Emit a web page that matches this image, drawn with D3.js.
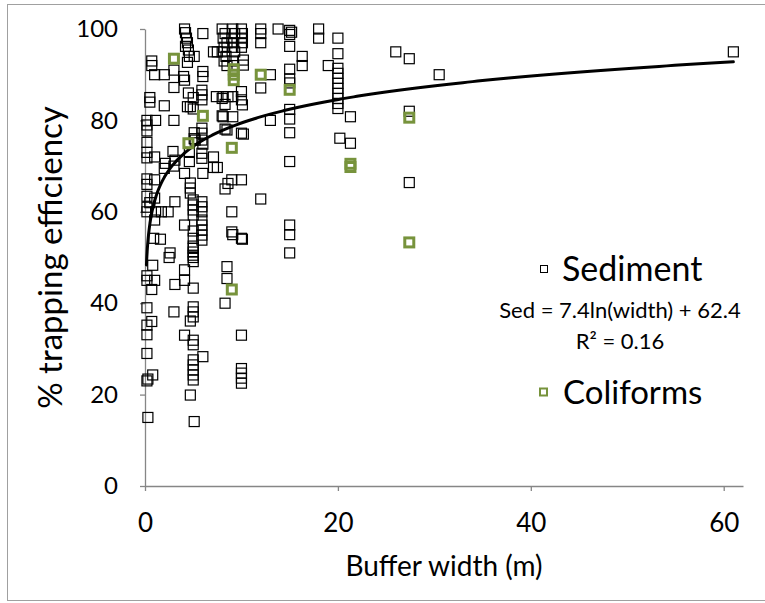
<!DOCTYPE html>
<html>
<head>
<meta charset="utf-8">
<script src="https://cdn.jsdelivr.net/npm/d3@7"></script>
<style>
  body { margin: 0; background: #fff; }
  svg { display: block; font-family: Lato, "Open Sans", sans-serif; }
</style>
</head>
<body>
<svg id="chart"></svg>
<script>
// Sediment trapping efficiency vs buffer width, with coliform points

// [buffer width (m), % trapping efficiency]
const sediment = [
  // ~0.2 m
  [0.2, 80], [0.2, 79], [0.2, 77.7], [0.2, 75.2], [0.2, 73], [0.2, 71.8], [0.2, 67.2], [0.2, 66],
  [0.2, 63.4], [0.2, 61], [0.2, 60], [0.2, 46], [0.2, 45], [0.2, 39], [0.2, 35.2], [0.2, 33.1],
  [0.2, 29], [0.3, 23.4], [0.2, 23], [0.3, 15],
  // ~0.5-1 m
  [0.5, 85], [0.5, 84], [0.5, 62], [0.7, 93], [0.7, 92], [1.0, 90], [1.1, 80], [1.0, 72],
  [1.0, 67], [1.0, 63], [1.1, 60], [1.0, 58.2], [0.9, 54.2], [1.6, 54], [0.8, 48.3], [1.0, 45],
  [0.7, 43], [0.7, 36], [0.8, 24.3],
  // 2-3 m
  [2.0, 90], [2.0, 83.2], [2.1, 70.6], [2.0, 69.5], [1.7, 60], [2.4, 60], [2.6, 51], [2.5, 50],
  [3.0, 91], [3.0, 87.2], [3.0, 80], [2.9, 73.2], [3.1, 71.3], [3.0, 70], [3.1, 62.2], [3.1, 44.1],
  [3.0, 38.1],
  // 4-5 m
  [4.1, 100], [4.2, 99.2], [4.3, 98], [4.4, 97], [4.2, 96.2], [4.5, 95.4], [4.6, 94], [4.4, 92.7],
  [4.0, 89.6], [4.1, 88.8], [4.5, 86], [4.4, 83], [4.7, 83], [4.6, 73], [4.6, 71], [4.1, 68.4],
  [4.7, 66.3], [4.7, 65.2], [4.7, 64.1], [4.1, 57.1], [4.1, 47.3], [4.1, 45], [4.7, 36.1], [4.1, 33],
  [4.7, 19.9],
  [5.1, 94], [5.0, 85], [5.0, 82.5], [5.1, 77.3], [5.1, 76], [5.2, 75.7], [5.0, 62.6], [5.0, 61.5],
  [5.0, 60.4], [5.0, 59.3], [5.0, 55.8], [5.0, 54.2], [5.0, 52.5], [5.0, 52], [5.0, 51.2], [5.0, 50.5],
  [5.0, 50], [5.0, 49.1], [5.0, 43.3], [5.0, 39.2], [5.0, 38.1], [5.0, 37], [5.0, 31.9], [5.0, 30.9],
  [5.0, 27.6], [5.0, 26.5], [5.0, 25.4], [5.0, 24.3], [5.0, 23.2], [5.1, 14.1],
  // 6 m
  [6.0, 99], [6.0, 90.7], [6.0, 89.6], [5.9, 86.6], [5.9, 85.6], [5.9, 84.5], [5.9, 78.3], [5.9, 77.2],
  [5.9, 75.7], [6.0, 74.8], [5.9, 72.8], [5.9, 71.7], [6.0, 68.4], [5.9, 62.2], [5.9, 61.1], [5.9, 60],
  [5.9, 58.2], [5.9, 57.1], [5.9, 56], [5.9, 54.9], [5.9, 53.8], [6.0, 28.3],
  // 7-8.6 m
  [7.1, 95], [7.5, 95], [7.4, 85.2], [7.1, 72], [7.1, 69.7], [7.5, 69.7],
  [8.0, 100], [8.3, 99], [8.1, 98], [8.5, 97], [8.2, 96], [8.0, 95], [8.4, 94], [8.2, 93], [8.5, 92],
  [8.1, 85.2], [8.6, 85.2], [8.0, 84.8], [8.3, 83.5], [8.0, 81], [8.1, 80.8], [8.3, 78.1], [8.5, 77.9],
  [8.6, 66.2], [8.3, 65], [8.5, 48], [8.5, 45.4], [8.3, 40],
  // 9-10 m
  [9.1, 100], [9.3, 99], [9.0, 98], [9.2, 97], [9.1, 96], [9.3, 95], [9.1, 93], [9.2, 92],
  [9.1, 85.2], [9.1, 80.8], [9.0, 67], [9.0, 60], [9.0, 55.6], [9.1, 55],
  [10.0, 100], [10.1, 99], [10.0, 98], [10.1, 97], [10.0, 96], [10.2, 93.2], [10.2, 92.1], [10.0, 86.3],
  [10.0, 84.5], [10.1, 83.4], [10.0, 77.2], [10.2, 77], [10.0, 67], [10.0, 54.2], [10.1, 54], [10.0, 33],
  [10.0, 25.7], [10.0, 24.7], [10.0, 23.6], [10.0, 22.5],
  // 12-19 m
  [12, 100], [12, 99], [12, 97], [12, 87.1], [12, 62.8], [13, 90], [13, 80], [13.8, 100],
  [15, 99.7], [15.2, 99.3], [15, 98.8], [15, 96.2], [15, 91.2], [15, 89.1], [15, 88.2], [15, 82.4],
  [15, 80.3], [15, 77.3], [15, 71], [15, 57.1], [15, 55], [15, 51],
  [16.3, 94], [16.3, 92], [18, 100], [18, 98], [19, 92],
  // 20-61 m
  [20, 98], [20, 94.6], [20, 91.4], [20, 90.3], [20, 89.2], [20, 88.1], [20, 87], [20, 85.9],
  [20, 84.8], [20, 83.7], [20, 82.6], [20.2, 76.1], [21.3, 80.8], [21.3, 75],
  [26, 95], [27.4, 93.5], [27.4, 82], [27.4, 66.4], [30.5, 90], [61, 95]
];

const coliforms = [
  [3, 93.5], [4.5, 75], [6, 81], [9.2, 91.2], [9.2, 90], [9.2, 88.8], [9, 74], [9, 43],
  [12, 90], [15, 86.7], [21.3, 70.5], [21.3, 69.8], [27.4, 80.6], [27.4, 53.3]
];

const xTicks = [0, 20, 40, 60];
const yTicks = [0, 20, 40, 60, 80, 100];

// fitted log trend shown in the legend: Sed = 7.4 ln(width) + 62.4
const trendA = 7.4, trendB = 62.4;
const trendFrom = 0.15, trendTo = 61;

const W = 765, H = 603;
const M = { top: 29, right: 22, bottom: 117, left: 145 };
const GREEN = "#77933c";
const AXIS = "#868686";

const svg = d3.select("#chart").attr("width", W).attr("height", H);

// chart border
svg.append("rect")
  .attr("x", 7.5).attr("y", 4.5)
  .attr("width", W).attr("height", 596)
  .attr("fill", "none").attr("stroke", "#a0a0a0").attr("stroke-width", 1);

const x = d3.scaleLinear().domain([0, 62]).range([M.left, W - M.right]);
const y = d3.scaleLinear().domain([0, 100]).range([H - M.bottom, M.top]);

// ---- Axes ----
const yAxis = svg.append("g")
  .attr("transform", `translate(${M.left},0)`)
  .call(d3.axisLeft(y).tickValues(yTicks).tickSize(5).tickSizeOuter(0).tickPadding(22));

const xAxis = svg.append("g")
  .attr("transform", `translate(0,${y(0)})`)
  .call(d3.axisBottom(x).tickValues(xTicks).tickSize(5).tickSizeOuter(0).tickPadding(23));

[yAxis, xAxis].forEach(a => {
  a.select(".domain").attr("stroke", AXIS).attr("stroke-width", 1.3);
  a.selectAll(".tick line").attr("stroke", AXIS).attr("stroke-width", 1.3);
  a.selectAll(".tick text").attr("fill", "#000").attr("font-family", "Lato, sans-serif");
});
yAxis.selectAll(".tick text").attr("font-size", 24);
xAxis.selectAll(".tick text").attr("font-size", 26);

// axis titles
svg.append("text")
  .attr("transform", `translate(62,${(y(0) + y(100)) / 2}) rotate(-90)`)
  .attr("text-anchor", "middle")
  .attr("font-size", 33)
  .attr("fill", "#000")
  .text("% trapping efficiency");

svg.append("text")
  .attr("x", (x(0) + x(62)) / 2).attr("y", 576)
  .attr("text-anchor", "middle")
  .attr("font-size", 28)
  .attr("fill", "#000")
  .text("Buffer width (m)");

// ---- Points ----
const S = 10;
svg.append("g").selectAll("rect")
  .data(sediment).join("rect")
  .attr("x", d => x(d[0]) - S / 2).attr("y", d => y(d[1]) - S / 2)
  .attr("width", S).attr("height", S)
  .attr("fill", "none").attr("stroke", "#000").attr("stroke-width", 1.2);

// trend line
const trend = d3.range(0, 401).map(i => {
  const w = trendFrom * Math.pow(trendTo / trendFrom, i / 400);
  return [w, trendA * Math.log(w) + trendB];
});
svg.append("path").datum(trend)
  .attr("fill", "none").attr("stroke", "#000").attr("stroke-width", 3)
  .attr("stroke-linecap", "round")
  .attr("d", d3.line().x(d => x(d[0])).y(d => y(d[1])));

const C = 9;
svg.append("g").selectAll("rect")
  .data(coliforms).join("rect")
  .attr("x", d => x(d[0]) - C / 2).attr("y", d => y(d[1]) - C / 2)
  .attr("width", C).attr("height", C)
  .attr("fill", "none").attr("stroke", GREEN).attr("stroke-width", 3);

// ---- Legend ----
svg.append("rect")
  .attr("x", 540.5).attr("y", 265.5).attr("width", 7).attr("height", 7)
  .attr("fill", "none").attr("stroke", "#000").attr("stroke-width", 1);
svg.append("text")
  .attr("x", 562).attr("y", 281)
  .attr("font-size", 34).attr("fill", "#000")
  .text("Sediment");
svg.append("text")
  .attr("x", 620).attr("y", 318)
  .attr("text-anchor", "middle")
  .attr("font-size", 22).attr("fill", "#000")
  .text("Sed = 7.4ln(width) + 62.4");
svg.append("text")
  .attr("x", 620).attr("y", 349)
  .attr("text-anchor", "middle")
  .attr("font-size", 22).attr("fill", "#000")
  .text("R² = 0.16");
svg.append("rect")
  .attr("x", 540).attr("y", 388.5).attr("width", 7).attr("height", 7)
  .attr("fill", "none").attr("stroke", GREEN).attr("stroke-width", 2);
svg.append("text")
  .attr("x", 563).attr("y", 404)
  .attr("font-size", 33).attr("fill", "#000")
  .text("Coliforms");
</script>
</body>
</html>
